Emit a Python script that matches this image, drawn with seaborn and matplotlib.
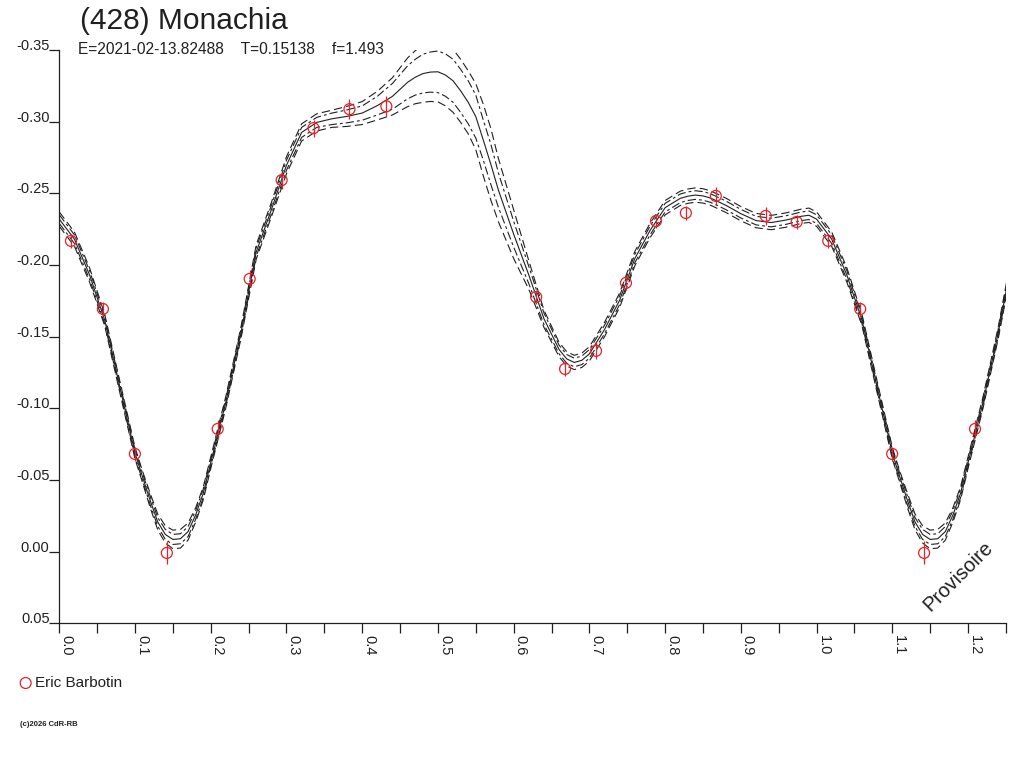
import numpy as np
import pandas as pd
import matplotlib
matplotlib.use('Agg')
import matplotlib.pyplot as plt
import seaborn as sns

TITLE = '(428) Monachia'
SUBTITLE = 'E=2021-02-13.82488    T=0.15138    f=1.493'
OBSERVER = 'Eric Barbotin'
COPYRIGHT = '(c)2026 CdR-RB'
STAMP = 'Provisoire'

# observations (phase, relative magnitude, error bar)
obs_phase = [0.0154, 0.0576, 0.0998, 0.1420, 0.2092, 0.2514, 0.2936, 0.3357,
             0.3832, 0.4319, 0.6297, 0.6679, 0.7088, 0.7483, 0.7879, 0.8274,
             0.8669, 0.9328, 0.9737]
obs_mag = [-0.2168, -0.1693, -0.0682, 0.0009, -0.0856, -0.1903, -0.2592, -0.2955,
           -0.3087, -0.3107, -0.1777, -0.1275, -0.1401, -0.1875, -0.2307, -0.2363,
           -0.2482, -0.2342, -0.2300]
obs_err = [0.005, 0.005, 0.005, 0.008, 0.006, 0.006, 0.006, 0.006,
           0.007, 0.007, 0.005, 0.005, 0.006, 0.005, 0.005, 0.005,
           0.006, 0.006, 0.005]

# fitted lightcurve
fit_phase = [0.00, 0.02, 0.04, 0.06, 0.08, 0.10, 0.11, 0.12, 0.13, 0.14,
             0.15, 0.16, 0.17, 0.18, 0.19, 0.20, 0.22, 0.24, 0.26, 0.28,
             0.30, 0.32, 0.34, 0.36, 0.38, 0.40, 0.42, 0.44, 0.46, 0.47,
             0.48, 0.49, 0.50, 0.51, 0.52, 0.53, 0.54, 0.55, 0.56, 0.57,
             0.58, 0.60, 0.62, 0.64, 0.66, 0.67, 0.68, 0.69, 0.70, 0.72,
             0.74, 0.76, 0.78, 0.80, 0.82, 0.83, 0.84, 0.85, 0.86, 0.88,
             0.90, 0.92, 0.94, 0.96, 0.98, 0.99]
fit_mag = [-0.232, -0.218, -0.193, -0.1615, -0.1148, -0.0687, -0.052, -0.0357, -0.0207, -0.0120,
           -0.0085, -0.0090, -0.0140, -0.0255, -0.0405, -0.0620, -0.1045, -0.1530, -0.2090, -0.2385,
           -0.2696, -0.2925, -0.2995, -0.3020, -0.3037, -0.3060, -0.3112, -0.3177, -0.3275, -0.3310,
           -0.3335, -0.3346, -0.3348, -0.3325, -0.3285, -0.3215, -0.3135, -0.3035, -0.2870, -0.2700,
           -0.2520, -0.2215, -0.1930, -0.1625, -0.1410, -0.1345, -0.1320, -0.1335, -0.1380, -0.1550,
           -0.1755, -0.2045, -0.2240, -0.2400, -0.2465, -0.2480, -0.2488, -0.2482, -0.2467, -0.2417,
           -0.2358, -0.2310, -0.2296, -0.2314, -0.2340, -0.2347]
# half widths of the envelopes (dashed = outer, dash-dot = inner)
env_dash = [0.005, 0.005, 0.005, 0.004, 0.004, 0.004, 0.004, 0.005, 0.0055, 0.006,
            0.0065, 0.0065, 0.006, 0.005, 0.0045, 0.004, 0.004, 0.004, 0.005, 0.005,
            0.006, 0.006, 0.006, 0.006, 0.007, 0.008, 0.010, 0.013, 0.017, 0.0185,
            0.020, 0.0205, 0.021, 0.0215, 0.022, 0.022, 0.022, 0.023, 0.025, 0.025,
            0.022, 0.017, 0.010, 0.006, 0.005, 0.005, 0.005, 0.005, 0.005, 0.005,
            0.005, 0.005, 0.005, 0.005, 0.005, 0.005, 0.005, 0.005, 0.005, 0.005,
            0.005, 0.005, 0.005, 0.005, 0.005, 0.005]
env_dashdot = [0.003, 0.003, 0.003, 0.0025, 0.0025, 0.0025, 0.0025, 0.003, 0.003, 0.0035,
               0.0035, 0.0035, 0.0035, 0.003, 0.003, 0.0025, 0.0025, 0.0025, 0.003, 0.003,
               0.0035, 0.0035, 0.0035, 0.004, 0.0045, 0.005, 0.0065, 0.009, 0.0115, 0.0125,
               0.0135, 0.014, 0.0145, 0.0148, 0.015, 0.015, 0.015, 0.015, 0.014, 0.014,
               0.012, 0.009, 0.006, 0.004, 0.003, 0.003, 0.003, 0.003, 0.003, 0.003,
               0.003, 0.003, 0.003, 0.003, 0.003, 0.003, 0.003, 0.003, 0.003, 0.003,
               0.003, 0.003, 0.003, 0.003, 0.003, 0.003]

xticks = [0.0, 0.1, 0.2, 0.3, 0.4, 0.5, 0.6, 0.7, 0.8, 0.9, 1.0, 1.1, 1.2]
xticklabels = ['0.0', '0.1', '0.2', '0.3', '0.4', '0.5', '0.6', '0.7', '0.8', '0.9', '1.0', '1.1', '1.2']
xminor = [0.05, 0.15, 0.25, 0.35, 0.45, 0.55, 0.65, 0.75, 0.85, 0.95, 1.05, 1.15, 1.25]
yticks = [-0.35, -0.30, -0.25, -0.20, -0.15, -0.10, -0.05, 0.00, 0.05]
yticklabels = ['-0.35', '-0.30', '-0.25', '-0.20', '-0.15', '-0.10', '-0.05', '0.00', '0.05']

PHASE_MAX = 1.25

sns.set_style('white')
plt.rcParams['font.family'] = ['Liberation Sans', 'DejaVu Sans']
plt.rcParams['axes.unicode_minus'] = False
plt.rcParams['lines.scale_dashes'] = False
INK = '#202020'
RED = '#e8202a'

# repeat the first quarter of the cycle after phase 1
fp = np.array(fit_phase)
fm = np.array(fit_mag)
wd = np.array(env_dash)
wdd = np.array(env_dashdot)
wrap = fp <= 0.26
curve = pd.DataFrame({
    'phase': np.concatenate([fp, fp[wrap] + 1]),
    'mag': np.concatenate([fm, fm[wrap]]),
    'wd': np.concatenate([wd, wd[wrap]]),
    'wdd': np.concatenate([wdd, wdd[wrap]]),
})

op = np.array(obs_phase)
om = np.array(obs_mag)
oe = np.array(obs_err)
w2 = op + 1 < PHASE_MAX
obs = pd.DataFrame({
    'phase': np.concatenate([op, op[w2] + 1]),
    'mag': np.concatenate([om, om[w2]]),
    'err': np.concatenate([oe, oe[w2]]),
})

fig = plt.figure(figsize=(10.24, 7.68), dpi=100)
ax = fig.add_axes([59.3 / 1024, 1 - 623.3 / 768, (1005.9 - 59.3) / 1024, 573.3 / 768])

dashed = (0, (6, 3))
dashdot = (0, (6, 2.2, 2, 2.2))
lw = 0.8
for sign in (-1, 1):
    sns.lineplot(x=curve['phase'], y=curve['mag'] + sign * curve['wd'], ax=ax,
                 color=INK, lw=lw, linestyle=dashed, sort=False)
    sns.lineplot(x=curve['phase'], y=curve['mag'] + sign * curve['wdd'], ax=ax,
                 color=INK, lw=lw, linestyle=dashdot, sort=False)
sns.lineplot(data=curve, x='phase', y='mag', ax=ax, color=INK, lw=lw, sort=False)

ax.errorbar(obs['phase'], obs['mag'], yerr=obs['err'], fmt='none',
            ecolor=RED, elinewidth=0.9, capsize=0, zorder=4)
sns.scatterplot(data=obs, x='phase', y='mag', ax=ax, marker='o', s=62,
                facecolors='none', edgecolor=RED, linewidth=0.9,
                label=OBSERVER, zorder=5)

ax.set_xlim(0, PHASE_MAX)
ax.set_ylim(0.05, -0.35)
ax.set_xlabel('')
ax.set_ylabel('')
for s in ('top', 'right'):
    ax.spines[s].set_visible(False)
for s in ('left', 'bottom'):
    ax.spines[s].set_color(INK)
    ax.spines[s].set_linewidth(0.9)

ax.set_xticks(xticks)
ax.set_xticks(xminor, minor=True)
ax.set_xticklabels(xticklabels, rotation=270, ha='left', va='top', fontsize=10.5, color=INK)
ax.set_yticks(yticks)
ax.set_yticklabels(yticklabels, va='baseline', fontsize=10.5, color=INK)
ax.tick_params(axis='both', which='both', direction='out', length=7, width=0.9,
               color=INK, bottom=True, left=True)
ax.tick_params(axis='x', which='major', pad=1.5)
ax.tick_params(axis='y', pad=0)

ax.legend(loc='center left', bbox_to_anchor=(18 / 1024, 1 - 683 / 768),
          bbox_transform=fig.transFigure, frameon=False, fontsize=11,
          handlelength=1.0, handletextpad=0.1, borderpad=0, borderaxespad=0,
          labelcolor=INK)

fig.text(80 / 1024, 1 - 29 / 768, TITLE, fontsize=21.5, color=INK, va='baseline')
fig.text(78 / 1024, 1 - 54 / 768, SUBTITLE, fontsize=11.2, color=INK, va='baseline')
fig.text(20 / 1024, 1 - 725 / 768, COPYRIGHT, fontsize=5.5, fontweight='bold',
         color=INK, va='center')
fig.text(958 / 1024, 1 - 576 / 768, STAMP, fontsize=14.5, color=INK, rotation=45,
         ha='center', va='center')

fig.savefig('out.png', dpi=100)
